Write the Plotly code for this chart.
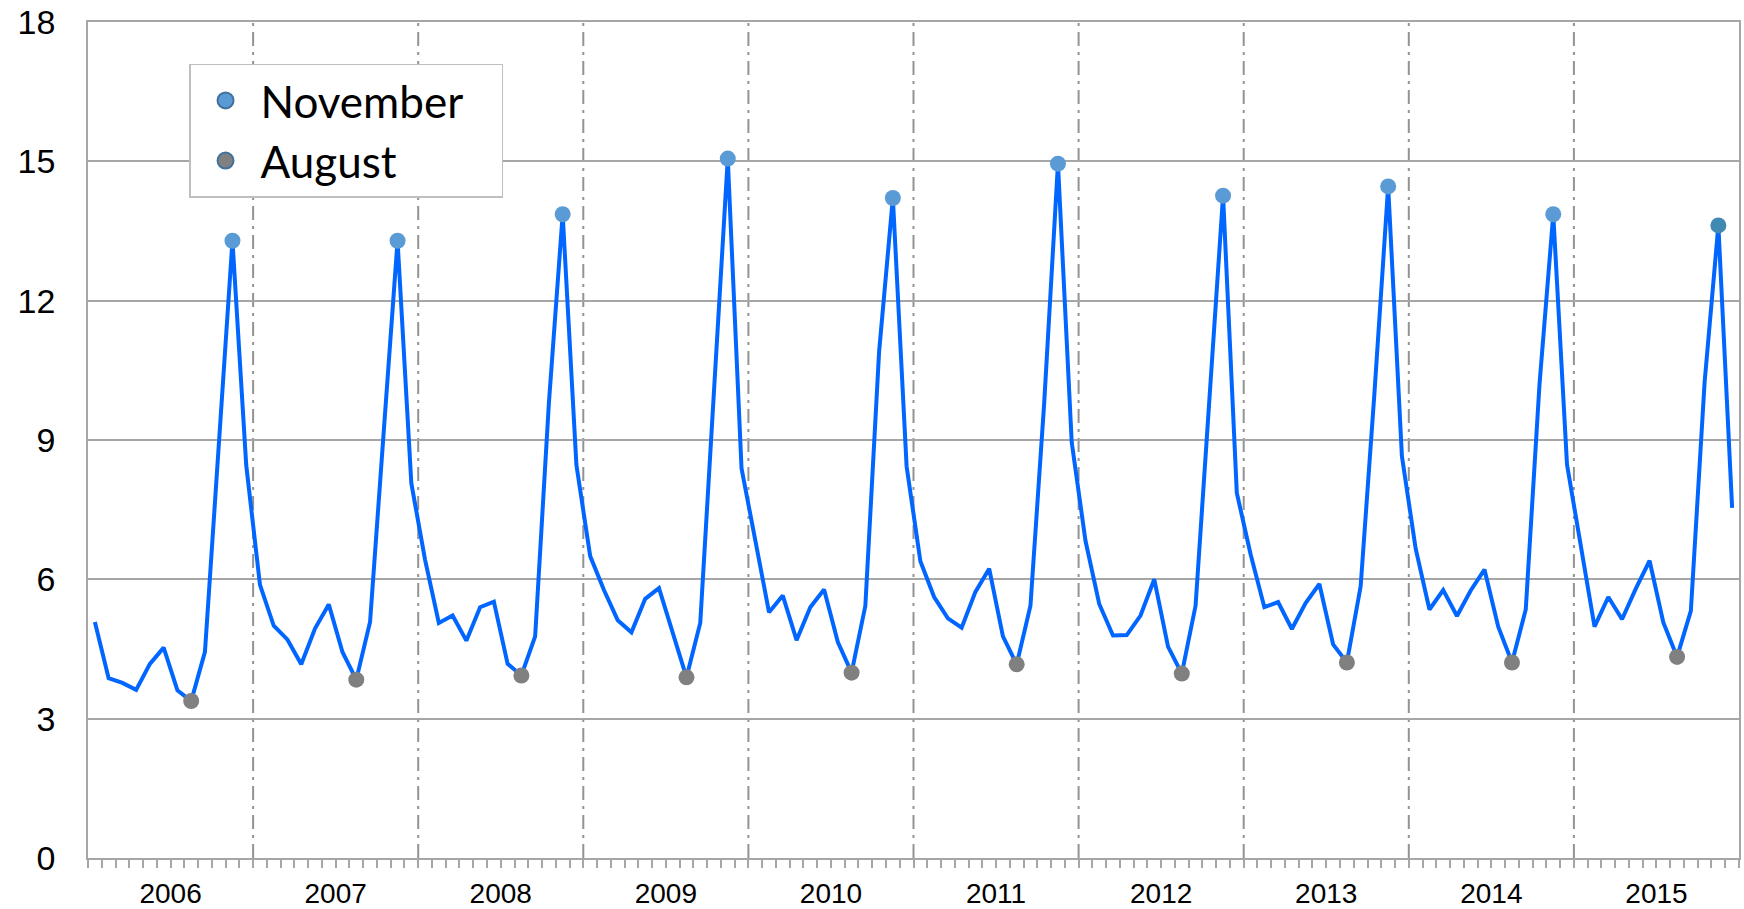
import plotly.graph_objects as go

# ---- data ----
years = [2006, 2007, 2008, 2009, 2010, 2011, 2012, 2013, 2014, 2015]
month_labels = ["Jan", "Feb", "Mar", "Apr", "May", "Jun",
                "Jul", "Aug", "Sep", "Oct", "Nov", "Dec"]
legend_names = ["November", "August"]

v2006 = [5.08, 3.87, 3.77, 3.62, 4.18, 4.53, 3.61, 3.38, 4.44, 8.90, 13.29, 8.46]
v2007 = [5.88, 5.00, 4.70, 4.17, 4.94, 5.46, 4.43, 3.84, 5.08, 9.20, 13.29, 8.07]
v2008 = [6.42, 5.06, 5.22, 4.68, 5.40, 5.52, 4.18, 3.93, 4.77, 9.80, 13.86, 8.46]
v2009 = [6.50, 5.77, 5.12, 4.86, 5.58, 5.81, 4.85, 3.89, 5.06, 10.00, 15.06, 8.39]
v2010 = [6.80, 5.29, 5.65, 4.69, 5.40, 5.78, 4.65, 3.99, 5.43, 10.90, 14.21, 8.43]
v2011 = [6.39, 5.62, 5.16, 4.96, 5.73, 6.23, 4.77, 4.17, 5.43, 9.80, 14.95, 8.95]
v2012 = [6.83, 5.47, 4.79, 4.80, 5.22, 6.00, 4.55, 3.97, 5.43, 9.90, 14.26, 7.86]
v2013 = [6.54, 5.40, 5.51, 4.93, 5.49, 5.90, 4.60, 4.21, 5.85, 10.00, 14.46, 8.65]
v2014 = [6.66, 5.35, 5.77, 5.21, 5.76, 6.21, 4.98, 4.21, 5.35, 10.20, 13.86, 8.47]
v2015 = [6.66, 4.98, 5.62, 5.14, 5.80, 6.40, 5.07, 4.33, 5.32, 10.24, 13.62, 7.54]

y_ticks = [0, 3, 6, 9, 12, 15, 18]

# ---- assemble series ----
values = v2006 + v2007 + v2008 + v2009 + v2010 + v2011 + v2012 + v2013 + v2014 + v2015
n = len(values)
idx = list(range(n))
hover = [f"{month_labels[i % 12]} {years[i // 12]}" for i in idx]

nov_i = [i for i in idx if month_labels[i % 12] == "Nov"]
aug_i = [i for i in idx if month_labels[i % 12] == "Aug"]

LINE = "#0066FF"
NOV = "#5B9BD5"
NOV_LAST = "#3F89B3"
AUG = "#808080"
GRID = "#A6A6A6"
PAD = "\u00a0" * 3  # keeps the legend box as wide as in the original

fig = go.Figure()
fig.add_trace(go.Scatter(
    x=idx, y=values, mode="lines", text=hover, hoverinfo="text+y",
    line=dict(color=LINE, width=4), showlegend=False))
fig.add_trace(go.Scatter(
    x=nov_i, y=[values[i] for i in nov_i], mode="markers",
    text=[hover[i] for i in nov_i], hoverinfo="text+y",
    marker=dict(size=16, color=[NOV] * (len(nov_i) - 1) + [NOV_LAST]),
    showlegend=False))
fig.add_trace(go.Scatter(
    x=aug_i, y=[values[i] for i in aug_i], mode="markers",
    text=[hover[i] for i in aug_i], hoverinfo="text+y",
    marker=dict(size=16, color=AUG), showlegend=False))
# legend entries
fig.add_trace(go.Scatter(
    x=[None], y=[None], mode="markers", name=legend_names[0] + PAD,
    marker=dict(size=16, color=NOV, line=dict(color="#41719C", width=2))))
fig.add_trace(go.Scatter(
    x=[None], y=[None], mode="markers", name=legend_names[1],
    marker=dict(size=16, color=AUG, line=dict(color="#41719C", width=2))))

# year dividers (between December and January)
shapes = []
for k in range(1, len(years)):
    shapes.append(dict(
        type="line", xref="x", yref="paper",
        x0=12 * k - 0.5, x1=12 * k - 0.5, y0=0, y1=1,
        line=dict(color="#939393", width=2, dash="14px,6px,3px,6px"),
        layer="below"))

year_centers = [12 * k + 5.5 for k in range(len(years))]

fig.update_layout(
    width=1744, height=909,
    margin=dict(l=88, r=5, t=22, b=51),
    paper_bgcolor="white", plot_bgcolor="white",
    shapes=shapes,
    legend=dict(
        x=0.0612, y=0.950, xanchor="left", yanchor="top",
        bgcolor="white", bordercolor="#BFBFBF", borderwidth=1.5,
        font=dict(family="Lato", size=44, color="black"),
        itemwidth=60,
    ),
    xaxis=dict(
        range=[-0.5, n - 0.5], automargin=False,
        tickmode="array", tickvals=year_centers,
        ticktext=[str(y) for y in years],
        ticks="outside", ticklen=8, tickcolor=GRID, tickwidth=1.5,
        minor=dict(tickmode="linear", tick0=-0.5, dtick=1,
                   ticks="outside", ticklen=8, tickcolor=GRID, tickwidth=1.5,
                   showgrid=False),
        showgrid=False, zeroline=False,
        showline=True, linecolor=GRID, linewidth=1.5, mirror=True,
        tickfont=dict(family="Liberation Sans", size=28, color="black"),
        ticklabelstandoff=2,
    ),
    yaxis=dict(
        range=[0, 18], tickmode="array", tickvals=y_ticks, automargin=False,
        ticks="", showgrid=True, gridcolor=GRID, gridwidth=1.5,
        zeroline=False,
        showline=True, linecolor=GRID, linewidth=1.5, mirror=True,
        tickfont=dict(family="Liberation Sans", size=34, color="black"),
        ticklabelstandoff=24,
    ),
)

fig.write_html(
    "out.html",
    config={"displayModeBar": False},
    post_script="document.body.style.margin='0';document.body.style.overflow='hidden';",
)
